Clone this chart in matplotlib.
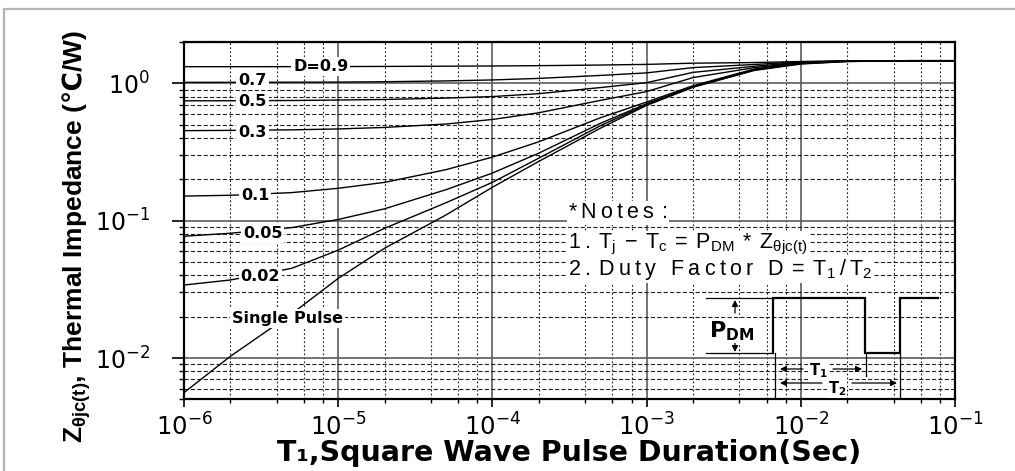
import matplotlib
matplotlib.use("Agg")
import matplotlib.pyplot as plt
import numpy as np
from matplotlib.ticker import LogLocator, NullFormatter

plt.rcParams["lines.scale_dashes"] = False
plt.rcParams["font.family"] = ["DejaVu Sans"]

# pulse width (s) at which each curve is sampled
t_pulse = [1e-6, 2e-6, 5e-6, 1e-5, 2e-5, 5e-5, 1e-4, 2e-4, 5e-4,
           1e-3, 2e-3, 5e-3, 1e-2, 2e-2, 5e-2, 1e-1]

# transient thermal impedance (C/W) per duty factor
z_d090 = [1.32, 1.32, 1.321, 1.323, 1.326, 1.331, 1.336, 1.343, 1.357,
          1.372, 1.40, 1.415, 1.44, 1.455, 1.46, 1.46]
z_d070 = [1.015, 1.016, 1.018, 1.02, 1.026, 1.04, 1.057, 1.085, 1.14,
          1.19, 1.30, 1.37, 1.43, 1.455, 1.46, 1.46]
z_d050 = [0.745, 0.746, 0.749, 0.755, 0.762, 0.78, 0.80, 0.84, 0.93,
          1.01, 1.20, 1.33, 1.42, 1.45, 1.46, 1.46]
z_d030 = [0.452, 0.454, 0.458, 0.465, 0.477, 0.505, 0.545, 0.61, 0.75,
          0.87, 1.10, 1.30, 1.41, 1.45, 1.46, 1.46]
z_d010 = [0.151, 0.153, 0.160, 0.172, 0.19, 0.235, 0.29, 0.375, 0.56,
          0.73, 0.96, 1.27, 1.40, 1.45, 1.46, 1.46]
z_d005 = [0.077, 0.081, 0.089, 0.102, 0.122, 0.168, 0.222, 0.31, 0.51,
          0.71, 0.945, 1.26, 1.40, 1.45, 1.46, 1.46]
z_d002 = [0.034, 0.037, 0.045, 0.061, 0.088, 0.135, 0.19, 0.285, 0.49,
          0.70, 0.94, 1.25, 1.39, 1.44, 1.46, 1.46]
z_single = [0.0056, 0.0103, 0.021, 0.038, 0.063, 0.11, 0.175, 0.27, 0.47,
            0.69, 0.935, 1.24, 1.38, 1.44, 1.46, 1.46]

curves = [z_d090, z_d070, z_d050, z_d030, z_d010, z_d005, z_d002, z_single]
curve_names = ["D=0.9", "0.7", "0.5", "0.3", "0.1", "0.05", "0.02", "Single Pulse"]
# label anchor (pulse width, baseline impedance) for each curve name
name_t = [7.7e-6, 2.78e-6, 2.78e-6, 2.78e-6, 2.89e-6, 3.23e-6, 3.13e-6, 4.69e-6]
name_z = [1.235, 0.972, 0.687, 0.409, 0.1417, 0.0753, 0.0365, 0.018]

W, H = 1015, 471
fig = plt.figure(figsize=(W / 100, H / 100), dpi=100)
ax = fig.add_axes([184 / W, 1 - 399.4 / H, (955 - 184) / W, (399.4 - 41.9) / H])
ax.set_xscale("log")
ax.set_yscale("log")
ax.set_xlim(1e-6, 1e-1)
ax.set_ylim(0.005, 2)

ax.xaxis.set_major_locator(LogLocator(base=10, numticks=10))
ax.xaxis.set_minor_locator(LogLocator(base=10, subs=[2, 4, 6, 8], numticks=30))
ax.yaxis.set_minor_locator(LogLocator(base=10, subs=np.arange(2, 10), numticks=30))
ax.xaxis.set_minor_formatter(NullFormatter())
ax.yaxis.set_minor_formatter(NullFormatter())

ax.set_axisbelow(True)
ax.grid(which="major", color="#5c5c5c", lw=1.2, ls="-")
ax.xaxis.grid(True, which="minor", color="#202020", lw=0.8, ls=(0, (1.3, 1.6)))
ax.yaxis.grid(True, which="minor", color="#202020", lw=0.8, ls=(0, (3.0, 1.6)))

for sp in ax.spines.values():
    sp.set_linewidth(1.6)
ax.tick_params(axis="y", which="major", length=8.5, width=1.2, pad=16, labelsize=17)
ax.tick_params(axis="y", which="minor", length=3.6, width=1.0)
ax.tick_params(axis="x", which="major", length=6, width=1.2, pad=4, labelsize=17.5)
ax.tick_params(axis="x", which="minor", length=3, width=1.0)

for z in curves:
    ax.plot(t_pulse, z, color="black", lw=1.0)

for name, tx, tz in zip(curve_names, name_t, name_z):
    ax.text(tx, tz, name, ha="center", va="baseline", fontsize=11.5,
            fontweight="bold", zorder=4,
            bbox=dict(facecolor="white", edgecolor="none", pad=1.5))

ax.set_xlabel("T\u2081,Square Wave Pulse Duration(Sec)", fontsize=20.5,
              fontweight="bold")
ax.xaxis.set_label_coords(0.5, -0.112)
ax.set_ylabel("Z$_{\\mathregular{\u03b8jc(t)}}$, Thermal Impedance "
              "($\\mathbf{\u2103}$/W)",
              fontsize=19, fontweight="bold", va="center",
              family=["Liberation Sans", "DejaVu Sans"])
ax.yaxis.set_label_coords(-0.14, 0.455)

# overlay in pixel units for the notes and the pulse sketch
ov = fig.add_axes([0, 0, 1, 1])
ov.set_xlim(0, W)
ov.set_ylim(H, 0)
ov.axis("off")

# page border
ov.plot([4, 4, W + 5], [H + 5, 9, 9], color="#b4b4b4", lw=1.6)


def tracked(tokens, gap):
    return "$\\mathregular{" + ("\\hspace{%.2f}" % gap).join(tokens) + "}$"


note_lines = [
    ["*", "N", "o", "t", "e", "s", ":"],
    ["1", ".", "T_{j}", "-", "T_{c}", "=", "P_{DM}", "*", "Z_{\u03b8jc(t)}"],
    ["2", ".", "D", "u", "t", "y", "\\ ", "F", "a", "c", "t", "o", "r", "\\ ",
     "D", "=", "T_{1}", "/", "T_{2}"],
]
note_base = [218.3, 248.3, 275.0]
for toks, yb in zip(note_lines, note_base):
    ov.text(568, yb, tracked(toks, 0.2), ha="left", va="baseline",
            fontsize=15.5, family="Liberation Sans",
            bbox=dict(facecolor="white", edgecolor="none", pad=1))

# square wave sketch
ov.plot([773, 773, 865, 865, 900, 900, 938],
        [352.7, 298.3, 298.3, 352.7, 352.7, 298.3, 298.3],
        color="black", lw=1.6, solid_joinstyle="miter")
ov.plot([706, 773], [298.3, 298.3], color="black", lw=0.9)
ov.plot([706, 773], [352.7, 352.7], color="black", lw=0.9)
for xv, yv in [(775, 398), (866, 376), (900, 398)]:
    ov.plot([xv, xv], [352.7, yv], color="black", lw=0.9)

arrow = dict(arrowstyle="-|>", color="black", lw=0.9, mutation_scale=9,
             shrinkA=0, shrinkB=0)
for tip, tail in [((735, 300), (735, 313)), ((735, 352), (735, 339)),
                  ((780, 369), (803, 369)), ((862, 369), (833, 369)),
                  ((780, 383), (822, 383)), ((897, 383), (852, 383))]:
    ov.annotate("", xy=tip, xytext=tail, arrowprops=arrow)

ov.text(709, 337, "P$_{\\mathregular{DM}}$", ha="left", va="baseline",
        fontsize=16, fontweight="bold",
        bbox=dict(facecolor="white", edgecolor="none", pad=0.5))
ov.text(818, 375, "T$_{\\mathregular{1}}$", ha="center", va="baseline",
        fontsize=10.5, fontweight="bold",
        bbox=dict(facecolor="white", edgecolor="none", pad=0.5))
ov.text(837, 393, "T$_{\\mathregular{2}}$", ha="center", va="baseline",
        fontsize=10.5, fontweight="bold",
        bbox=dict(facecolor="white", edgecolor="none", pad=0.5))

fig.savefig("out.png", dpi=100)
